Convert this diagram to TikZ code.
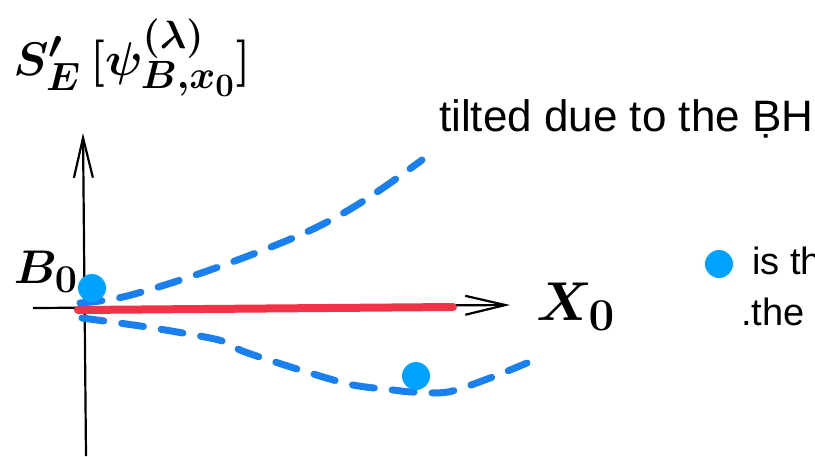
\documentclass[tikz,border=0pt]{standalone}
\usepackage{graphicx}
\usepackage{fontspec}
\setmainfont{Liberation Sans}
\usetikzlibrary{arrows.meta}
\definecolor{dashblue}{HTML}{1A80F0}
\definecolor{dotblue}{HTML}{00A2FF}
\definecolor{redline}{HTML}{F23347}
\begin{document}
\begin{tikzpicture}[x=1pt,y=-1pt,
  axis/.style={line width=2.2pt, black, -{Straight Barb[length=40pt,width=19pt,line width=2.2pt]}},
  bluedash/.style={dashblue, line width=7pt, line cap=round, dash pattern=on 22pt off 18pt},
  redstroke/.style={redline, line width=8pt, line cap=round},
  dotstyle/.style={circle, fill=dotblue, minimum size=28pt, inner sep=0pt},
  titletext/.style={font=\fontsize{44}{52}\selectfont, inner sep=0pt, anchor=base west},
  bodytext/.style={font=\fontsize{38}{46}\selectfont, inner sep=0pt, anchor=base west},
  hand/.style={inner sep=0pt, font=\Huge\boldmath}
]
\useasboundingbox (0,0) rectangle (815,456);
% axes
\coordinate (vb) at (86,456);
\coordinate (vt) at (83,133);
\coordinate (hl) at (33,308);
\coordinate (hr) at (510,305);
\draw[axis] (vb) -- (vt);
\draw[axis] (hl) -- (hr);
% red line
\coordinate (r1) at (78,310);
\coordinate (r2) at (453,307);
\draw[redstroke] (r1) -- (r2);
% blue dashed curves
\draw[bluedash] plot[smooth, tension=0.6] coordinates {(80,303) (127,296) (210,270) (293,238) (340,215) (380,190) (422,160)};
\draw[bluedash] plot[smooth, tension=0.5] coordinates {(82,318) (147,327) (205,337) (225,342) (245,352) (310,373) (353,385) (393,390) (413,392) (448,392) (490,378) (527,363)};
% dots
\node[dotstyle] (d1) at (92,288) {};
\node[dotstyle] (d2) at (416,376) {};
\node[dotstyle] (d3) at (719,264) {};
% texts
\node[titletext] (t1) at (439,131) {tilted due to the ḄH};
\node[bodytext] (t2) at (752,274) {is th};
\node[bodytext] (t3) at (741,325) {.the};
% handwritten labels
\node[hand] (lab) at (132,58) {\scalebox{1.9}{$S'_E\,[\psi^{(\lambda)}_{B,x_0}]$}};
\node[hand] (b0) at (46,272) {\scalebox{1.9}{$B_0$}};
\node[hand] (x0) at (576,307) {\scalebox{2.2}{$X_0$}};
\end{tikzpicture}
\end{document}
